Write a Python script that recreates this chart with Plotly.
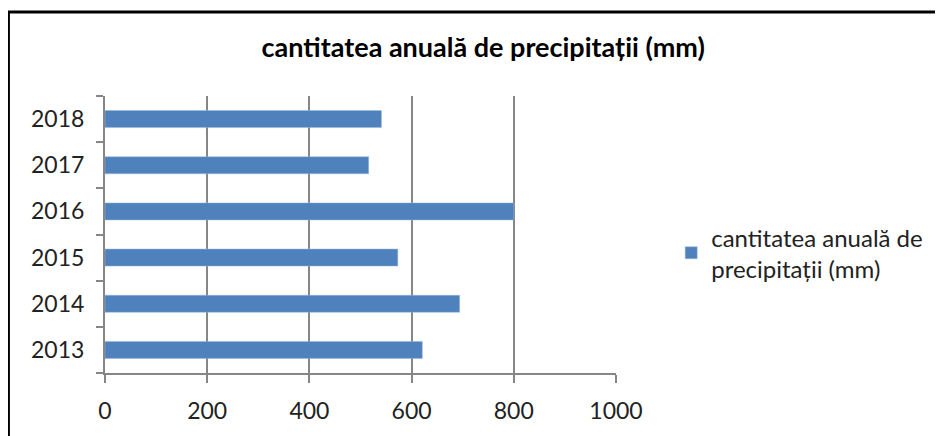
import plotly.graph_objects as go

# anii si cantitatea de precipitatii
ani = ['2013', '2014', '2015', '2016', '2017', '2018']
precipitatii = [621, 694, 573, 800, 516, 541]
serie = 'cantitatea anuală de<br>precipitații (mm)'
titlu = 'cantitatea anuală de precipitații (mm)'

fig = go.Figure()
fig.add_trace(go.Bar(name=serie, x=precipitatii, y=ani, orientation='h',
                     marker=dict(color='#4F81BD', line=dict(color='#9DB8DD', width=0.5))))

# pagina are o margine de 8px, de aceea marginile sunt micsorate
fig.update_layout(
    width=943, height=436,
    paper_bgcolor='white', plot_bgcolor='white',
    margin=dict(l=97, r=335, t=88, b=71),
    bargap=0.63,
    font=dict(family='Lato', size=23, color='#222222'),
    title=dict(text='<b>' + titlu + '</b>', x=0.504, xanchor='center',
               y=0.91, yanchor='middle',
               font=dict(family='Lato', size=27, color='black')),
    showlegend=True,
    legend=dict(x=1.108, xanchor='left', y=0.433, yanchor='middle',
                font=dict(size=24, color='#222222'), itemwidth=30),
)
fig.update_xaxes(range=[0, 1000], dtick=200, showgrid=True, gridcolor='#868686', gridwidth=2,
                 showline=True, linecolor='#868686', linewidth=2,
                 ticks='outside', ticklen=8, tickwidth=2, tickcolor='#868686',
                 ticklabelstandoff=8, zeroline=False, fixedrange=True)
fig.update_yaxes(type='category', showgrid=False, showline=True, linecolor='#868686', linewidth=2,
                 ticks='outside', ticklen=7, tickwidth=2, tickcolor='#868686', tickson='boundaries',
                 ticklabelstandoff=14, fixedrange=True)

# chenarul negru al diagramei
fig.add_shape(type='rect', xref='paper', yref='paper', x0=-0.189, x1=1.8, y0=-0.5, y1=1.303,
              line=dict(color='black', width=3), fillcolor='rgba(0,0,0,0)', layer='below')

fig.write_html('out.html')
